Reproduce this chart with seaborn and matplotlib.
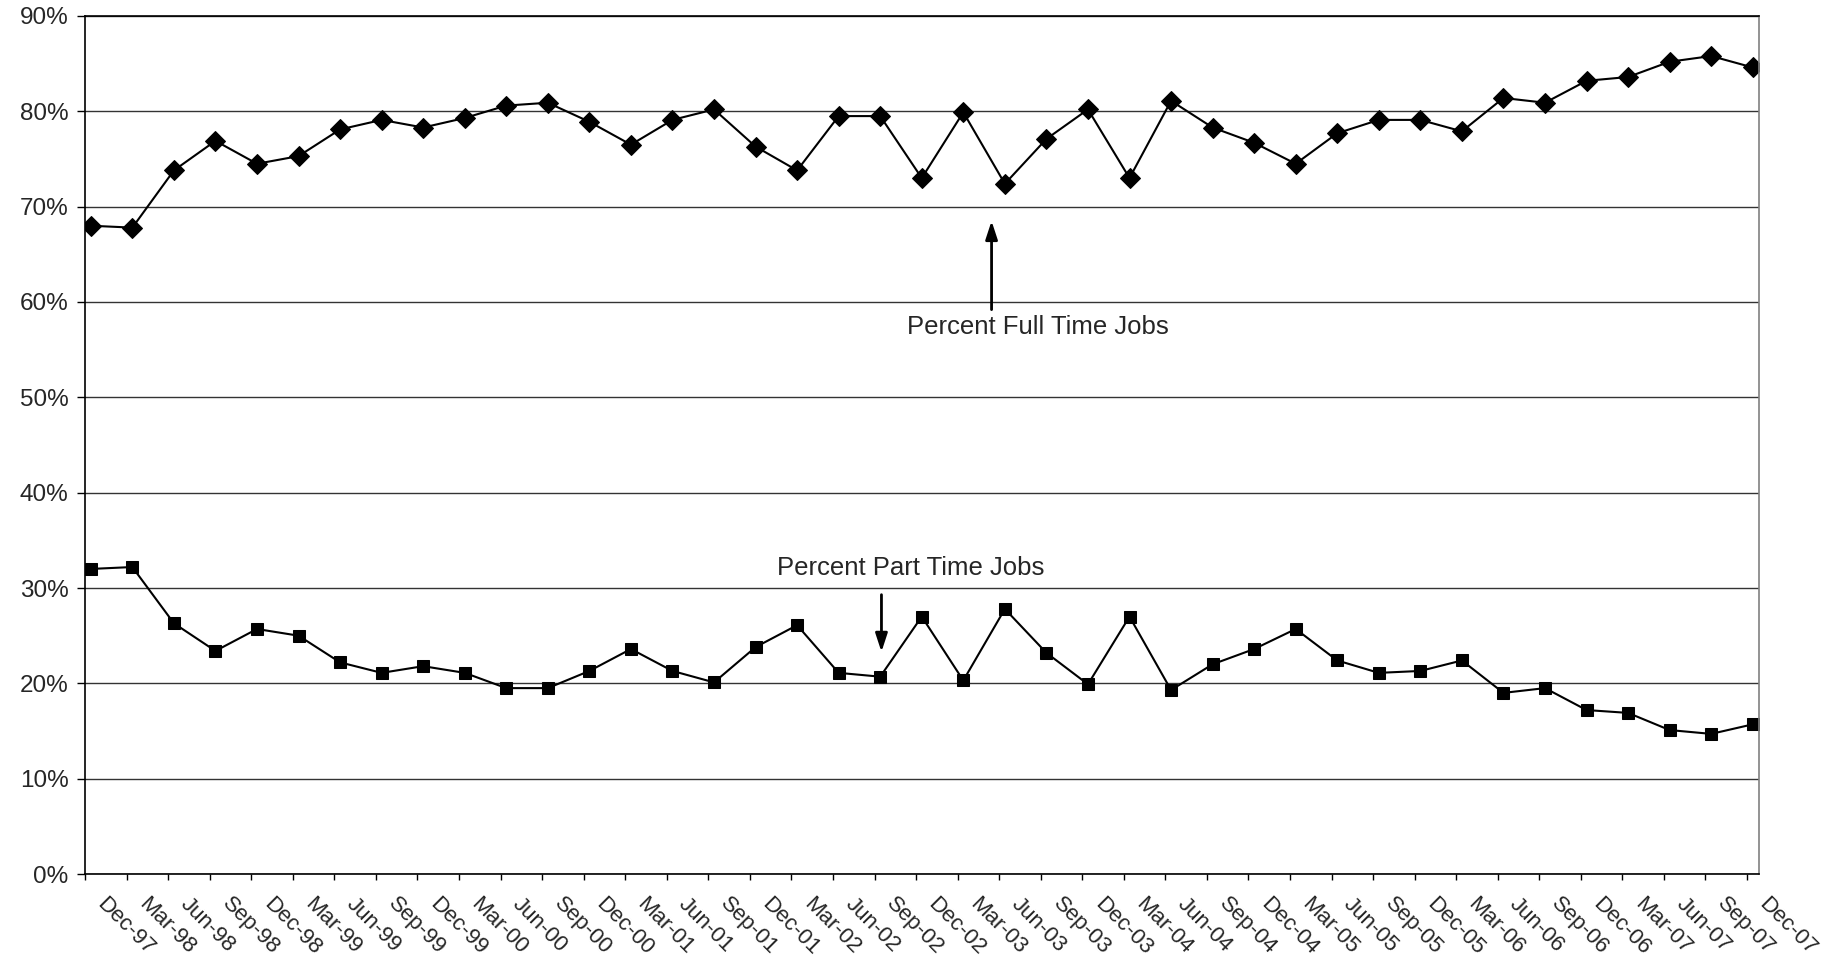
import matplotlib
matplotlib.use("Agg")

import numpy as np
import pandas as pd
import matplotlib.pyplot as plt
import matplotlib.transforms as mtransforms
import seaborn as sns

# ===============================
# data
# ===============================
quarters = [
    "Dec-97", "Mar-98", "Jun-98", "Sep-98", "Dec-98", "Mar-99", "Jun-99", "Sep-99",
    "Dec-99", "Mar-00", "Jun-00", "Sep-00", "Dec-00", "Mar-01", "Jun-01", "Sep-01",
    "Dec-01", "Mar-02", "Jun-02", "Sep-02", "Dec-02", "Mar-03", "Jun-03", "Sep-03",
    "Dec-03", "Mar-04", "Jun-04", "Sep-04", "Dec-04", "Mar-05", "Jun-05", "Sep-05",
    "Dec-05", "Mar-06", "Jun-06", "Sep-06", "Dec-06", "Mar-07", "Jun-07", "Sep-07",
    "Dec-07",
]

full_time = [
    68.0, 67.8, 73.8, 76.9, 74.5, 75.3, 78.1, 79.1, 78.3, 79.3, 80.6, 80.9,
    78.9, 76.5, 79.1, 80.2, 76.3, 73.8, 79.5, 79.5, 73.0, 79.9, 72.4, 77.1,
    80.2, 73.0, 81.1, 78.3, 76.7, 74.5, 77.7, 79.1, 79.1, 77.9, 81.4, 80.9,
    83.2, 83.6, 85.2, 85.8, 84.6,
]

part_time = [
    32.0, 32.2, 26.3, 23.4, 25.7, 25.0, 22.2, 21.1, 21.8, 21.1, 19.5, 19.5,
    21.3, 23.6, 21.3, 20.1, 23.8, 26.1, 21.1, 20.7, 27.0, 20.3, 27.8, 23.2,
    19.9, 27.0, 19.3, 22.0, 23.6, 25.7, 22.4, 21.1, 21.3, 22.4, 19.0, 19.5,
    17.2, 16.9, 15.1, 14.7, 15.7,
]

y_ticks = [0, 10, 20, 30, 40, 50, 60, 70, 80, 90]

df = pd.DataFrame({
    "pos": np.arange(len(quarters)),
    "quarter": quarters,
    "full": full_time,
    "part": part_time,
})

# ===============================
# style
# ===============================
sns.set_style("white")
plt.rcParams["font.family"] = ["Liberation Sans", "DejaVu Sans"]

fig = plt.figure(figsize=(18.38, 9.57), dpi=100)
ax = fig.add_axes([0.0463, 0.0867, 0.9107, 0.8966])

# ===============================
# lines
# ===============================
sns.lineplot(data=df, x="pos", y="full", ax=ax, color="black", lw=1.5,
             marker="D", markersize=10, markeredgecolor="black",
             markerfacecolor="black")
sns.lineplot(data=df, x="pos", y="part", ax=ax, color="black", lw=1.5,
             marker="s", markersize=8, markeredgecolor="black",
             markerfacecolor="black")

# ===============================
# axes
# ===============================
n = len(quarters)
off = 0.137
ax.set_xlim(-off, n - 1 + 0.15)
ax.set_ylim(0, 90)

ax.set_yticks(y_ticks)
ax.set_yticklabels([f"{v}%" for v in y_ticks])
ax.yaxis.grid(True, color="#333333", lw=1)
ax.xaxis.grid(False)

ax.set_xticks(df["pos"])
ax.set_xticklabels(quarters)
ax.set_xticks(np.arange(n) - off, minor=True)
ax.tick_params(axis="x", which="major", length=0, pad=14, labelsize=16)
ax.tick_params(axis="x", which="minor", length=4.5, width=1, color="black",
               direction="out", bottom=True)
ax.tick_params(axis="y", length=6, width=1, color="black", direction="out",
               left=True, pad=6, labelsize=17.5)

shift = mtransforms.ScaledTranslation(0.17, 0, fig.dpi_scale_trans)
for lbl in ax.get_xticklabels():
    lbl.set_rotation(-45)
    lbl.set_ha("left")
    lbl.set_va("top")
    lbl.set_rotation_mode("anchor")
    lbl.set_transform(lbl.get_transform() + shift)

for side in ["left", "bottom", "top"]:
    ax.spines[side].set_color("black")
    ax.spines[side].set_linewidth(1.2)
ax.spines["right"].set_color("#808080")
ax.spines["right"].set_linewidth(1.2)

ax.set_xlabel("")
ax.set_ylabel("")

# ===============================
# annotations
# ===============================
arrow = dict(arrowstyle="-|>,head_length=0.55,head_width=0.18", color="black",
             lw=2, mutation_scale=20, shrinkA=0, shrinkB=0)
ax.annotate("", xy=(21.68, 68.5), xytext=(21.68, 59.2), arrowprops=arrow)
ax.text(22.8, 57.4, "Percent Full Time Jobs", ha="center", va="center",
        fontsize=18.5)

ax.annotate("", xy=(19.03, 23.3), xytext=(19.03, 29.3), arrowprops=arrow)
ax.text(19.73, 32.1, "Percent Part Time Jobs", ha="center", va="center",
        fontsize=18.5)

fig.savefig("out.png", dpi=100)
plt.close(fig)
